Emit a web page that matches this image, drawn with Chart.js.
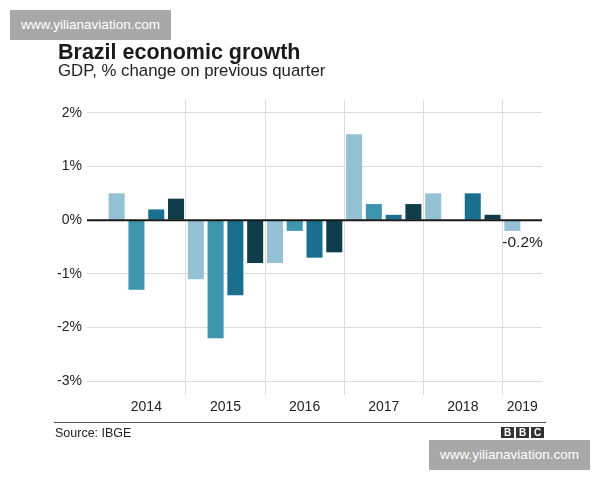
<!DOCTYPE html>
<html>
<head>
<meta charset="utf-8">
<script src="https://cdn.jsdelivr.net/npm/chart.js@4.4.1/dist/chart.umd.min.js"></script>
<style>
  body { margin: 0; background: #fff; font-family: "Liberation Sans", Arial, sans-serif; }
  #wrap { position: relative; width: 600px; height: 480px; overflow: hidden; }
  #chart { position: absolute; left: 0; top: 0; }
  .txt { position: absolute; white-space: nowrap; color: #222; }
  .title { left: 58px; top: 41.5px; font-size: 21.5px; line-height: 21.5px; font-weight: bold; color: #1a1a1a; }
  .subtitle { left: 58px; top: 63px; font-size: 16.8px; line-height: 16.8px; }
  .rule { position: absolute; left: 54px; top: 422px; width: 492px; height: 0; border-top: 1.5px solid #555; }
  .source { left: 55px; top: 427px; font-size: 12.5px; line-height: 12.5px; }
  .bbc { position: absolute; left: 501px; top: 427px; display: flex; gap: 2px; }
  .bbc span { display: block; width: 13px; height: 11px; background: #333; color: #fff;
              font-size: 10px; line-height: 11px; font-weight: bold; text-align: center; }
  .mark { position: absolute; width: 161px; height: 30px; background: #a8a8a8; color: #fff;
          font-size: 13.5px; line-height: 30px; text-align: center; }
</style>
</head>
<body>
<div id="wrap">
  <canvas id="chart" width="600" height="480"></canvas>
  <div class="txt title">Brazil economic growth</div>
  <div class="txt subtitle">GDP, % change on previous quarter</div>
  <div class="rule"></div>
  <div class="txt source">Source: IBGE</div>
  <div class="bbc"><span>B</span><span>B</span><span>C</span></div>
  <div class="mark" style="left:10px;top:10px;">www.yilianaviation.com</div>
  <div class="mark" style="left:429px;top:440px;">www.yilianaviation.com</div>
</div>
<script>
//DATA
const quarters = ['',
  '2014 Q1', '2014 Q2', '2014 Q3', '2014 Q4',
  '2015 Q1', '2015 Q2', '2015 Q3', '2015 Q4',
  '2016 Q1', '2016 Q2', '2016 Q3', '2016 Q4',
  '2017 Q1', '2017 Q2', '2017 Q3', '2017 Q4',
  '2018 Q1', '2018 Q2', '2018 Q3', '2018 Q4',
  '2019 Q1', ''];
const growth = [null,
  0.5, -1.3, 0.2, 0.4,
  -1.1, -2.2, -1.4, -0.8,
  -0.8, -0.2, -0.7, -0.6,
  1.6, 0.3, 0.1, 0.3,
  0.5, 0, 0.5, 0.1,
  -0.2, null];
const years = ['2014', '2015', '2016', '2017', '2018', '2019'];
const yTicks = [-3, -2, -1, 0, 1, 2];

const quarterColours = ['#94c1d3', '#3d95ae', '#1a6f8f', '#0f3d4c'];

// year segments in slot units (last year keeps the trailing empty slot)
const segments = years.map((y, i) => {
  const first = quarters.findIndex(q => q.startsWith(y));
  let last = -1;
  quarters.forEach((q, j) => { if (q.startsWith(y)) last = j; });
  const end = i === years.length - 1 ? quarters.length : last + 1;
  return { start: first, end: end };
});
const yearCentres = segments.map(s => (s.start + s.end) / 2);
const yearBounds = segments.slice(1).map(s => s.start);

Chart.defaults.font.family = '"Liberation Sans", Arial, sans-serif';
Chart.defaults.color = '#222';

// zero line over the bars + label on latest quarter
const extras = {
  id: 'extras',
  afterDatasetsDraw(chart) {
    const c = chart.ctx, area = chart.chartArea;
    const y0 = chart.scales.y.getPixelForValue(0);
    c.save();
    c.strokeStyle = '#1a1a1a';
    c.lineWidth = 2;
    c.beginPath();
    c.moveTo(area.left, y0);
    c.lineTo(area.right, y0);
    c.stroke();

    let idx = -1;
    growth.forEach((v, i) => { if (v !== null) idx = i; });
    const bar = chart.getDatasetMeta(0).data[idx];
    c.fillStyle = '#222';
    c.font = '15.5px "Liberation Sans", Arial, sans-serif';
    c.textAlign = 'left';
    c.textBaseline = 'alphabetic';
    c.fillText(growth[idx] + '%', bar.x - bar.width / 2 - 2, bar.y + 16.5);
    c.restore();
  }
};

new Chart(document.getElementById('chart'), {
  type: 'bar',
  data: {
    labels: quarters,
    datasets: [{
      data: growth,
      backgroundColor: ctx => {
        const q = quarters[ctx.dataIndex];
        return q ? quarterColours[parseInt(q.slice(-1)) - 1] : 'transparent';
      },
      barPercentage: 0.81,
      categoryPercentage: 1,
      borderWidth: 0
    }]
  },
  options: {
    responsive: false,
    animation: false,
    layout: { padding: { left: 50, right: 58, top: 100, bottom: 55 } },
    plugins: { legend: { display: false }, tooltip: { enabled: false } },
    scales: {
      x: { display: false },
      xYears: {
        type: 'linear',
        position: 'bottom',
        offset: false,
        min: 0,
        max: quarters.length,
        afterBuildTicks: scale => { scale.ticks = yearCentres.map(v => ({ value: v })); },
        afterFit: scale => { scale.height = 30; },
        grid: { display: false, drawTicks: false, offset: false },
        border: { display: false },
        ticks: {
          autoSkip: false,
          maxRotation: 0,
          padding: 4,
          color: '#222',
          font: { size: 14 },
          callback: (v, i) => years[i]
        }
      },
      xGrid: {
        type: 'linear',
        position: 'bottom',
        offset: false,
        min: 0,
        max: quarters.length,
        afterBuildTicks: scale => { scale.ticks = yearBounds.map(v => ({ value: v })); },
        afterFit: scale => { scale.height = 0; },
        grid: { color: '#dcdcdc', drawTicks: false, offset: false },
        border: { display: false },
        ticks: { display: false }
      },
      y: {
        min: -3.26,
        max: 2.24,
        afterBuildTicks: scale => { scale.ticks = yTicks.map(v => ({ value: v })); },
        afterFit: scale => { scale.width = 37; },
        grid: {
          color: ctx => ctx.tick && ctx.tick.value === 0 ? 'rgba(0,0,0,0)' : '#dcdcdc',
          drawTicks: false
        },
        border: { display: false },
        ticks: {
          padding: 5,
          color: '#222',
          font: { size: 14 },
          callback: v => v + '%'
        }
      }
    }
  },
  plugins: [extras]
});
</script>
</body>
</html>
